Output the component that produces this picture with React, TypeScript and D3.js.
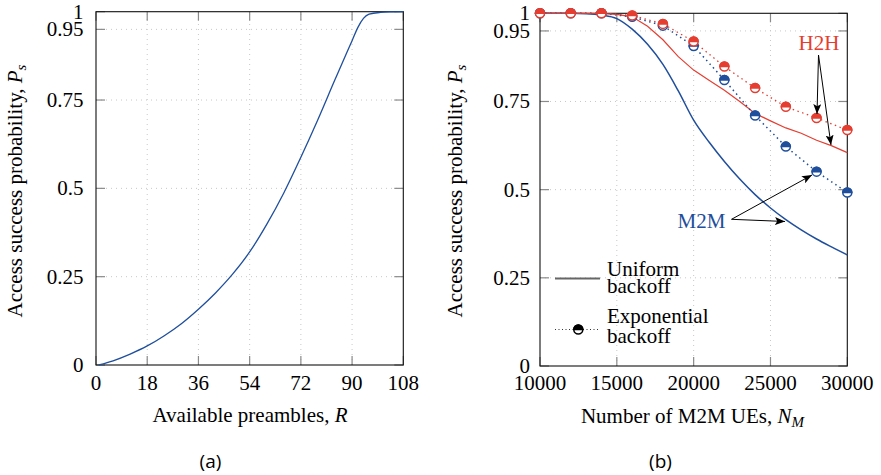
import React from "react";
import * as d3 from "d3";

// ---------- data ----------
const preamblesR = [1, 6, 12, 18, 24, 30, 36, 42, 48, 54, 60, 66, 72, 78, 84, 88, 90, 92, 94, 96, 100, 104, 108];
const successVsR = [0, 0.012, 0.031, 0.054, 0.083, 0.117, 0.158, 0.204, 0.257, 0.32, 0.398, 0.487, 0.588, 0.695, 0.808, 0.882, 0.918, 0.955, 0.981, 0.993, 0.998, 0.9995, 1];

const ueUniform = [10000, 11000, 12000, 13000, 14000, 15000, 16000, 17000, 18000, 19000, 20000, 21000, 22000, 23000, 24000, 25000, 26000, 27000, 28000, 29000, 30000];
const m2mUniform = [1, 1, 1, 0.999, 0.995, 0.985, 0.955, 0.912, 0.855, 0.78, 0.697, 0.635, 0.58, 0.53, 0.486, 0.448, 0.415, 0.386, 0.36, 0.337, 0.315];
const h2hUniform = [1, 1, 1, 1, 0.999, 0.997, 0.99, 0.963, 0.925, 0.877, 0.839, 0.81, 0.782, 0.75, 0.716, 0.695, 0.675, 0.66, 0.64, 0.624, 0.605];

const ueExponential = [10000, 12000, 14000, 16000, 18000, 20000, 22000, 24000, 26000, 28000, 30000];
const h2hExponential = [1, 1, 1, 0.994, 0.97, 0.92, 0.849, 0.788, 0.735, 0.703, 0.669];
const m2mExponential = [1, 1, 1, 0.99, 0.965, 0.907, 0.811, 0.71, 0.622, 0.551, 0.492];

const yTicks = [0, 0.25, 0.5, 0.75, 0.95, 1];
const yTickLabels = ["0", "0.25", "0.5", "0.75", "0.95", "1"];
const xTicksA = [0, 18, 36, 54, 72, 90, 108];
const xTicksB = [10000, 15000, 20000, 25000, 30000];

// ---------- styles ----------
const SERIF = "'Liberation Serif', 'Times New Roman', serif";
const SANS = "'Open Sans', 'Noto Sans', sans-serif";
const BLUE = "#1f4f9c";
const RED = "#e53e31";
const GRID = "#c8c8c8";
const TICK = "#8a8a8a";
const FS = 21;

type Pt = [number, number];

function Frame({ x, y, xTicks, xFmt, yLabelX }: any) {
  const [x0, x1] = x.range();
  const [y0, y1] = y.range();
  const tl = 9;
  return (
    <g>
      {xTicks.slice(1, -1).map((t: number) => (
        <line key={"gx" + t} x1={x(t)} x2={x(t)} y1={y0} y2={y1} stroke={GRID} strokeWidth={1} strokeDasharray="1,4" />
      ))}
      {yTicks.slice(1, -1).map((t) => (
        <line key={"gy" + t} x1={x0} x2={x1} y1={y(t)} y2={y(t)} stroke={GRID} strokeWidth={1} strokeDasharray="1,4" />
      ))}
      {xTicks.map((t: number) => (
        <g key={"tx" + t}>
          <line x1={x(t)} x2={x(t)} y1={y0} y2={y0 - tl} stroke={TICK} strokeWidth={1.2} />
          <line x1={x(t)} x2={x(t)} y1={y1} y2={y1 + tl} stroke={TICK} strokeWidth={1.2} />
          <text x={x(t)} y={390} textAnchor="middle" fontFamily={SERIF} fontSize={FS}>{xFmt(t)}</text>
        </g>
      ))}
      {yTicks.map((t, i) => (
        <g key={"ty" + t}>
          <line x1={x0} x2={x0 + tl} y1={y(t)} y2={y(t)} stroke={TICK} strokeWidth={1.2} />
          <line x1={x1} x2={x1 - tl} y1={y(t)} y2={y(t)} stroke={TICK} strokeWidth={1.2} />
          <text x={yLabelX} y={y(t) + 7} textAnchor="end" fontFamily={SERIF} fontSize={FS}>{yTickLabels[i]}</text>
        </g>
      ))}
      <rect x={x0} y={y1} width={x1 - x0} height={y0 - y1} fill="none" stroke="#111" strokeWidth={1.1} />
    </g>
  );
}

function HalfMarker({ cx, cy, color, r = 4.5 }: any) {
  return (
    <g>
      <circle cx={cx} cy={cy} r={r} fill="#fff" stroke={color} strokeWidth={1.5} />
      <path d={`M${cx - r},${cy} A${r},${r} 0 0 1 ${cx + r},${cy} Z`} fill={color} stroke={color} strokeWidth={1.5} />
    </g>
  );
}

function YLabel({ x, y }: any) {
  return (
    <text transform={`translate(${x},${y}) rotate(-90)`} textAnchor="middle" fontFamily={SERIF} fontSize={FS}>
      Access success probability,{" "}
      <tspan fontStyle="italic">P</tspan>
      <tspan fontStyle="italic" fontSize={15} dy={4}>s</tspan>
    </text>
  );
}

export default function App() {
  // panel (a)
  const xa = d3.scaleLinear().domain([0, 108]).range([96, 403.3]);
  const ya = d3.scaleLinear().domain([0, 1]).range([365, 11.7]);
  // panel (b)
  const xb = d3.scaleLinear().domain([10000, 30000]).range([540, 847.3]);
  const yb = d3.scaleLinear().domain([0, 1]).range([366, 13.3]);

  const lineA = d3.line<Pt>().x((d) => xa(d[0])).y((d) => ya(d[1])).curve(d3.curveMonotoneX);
  const lineB = d3.line<Pt>().x((d) => xb(d[0])).y((d) => yb(d[1]));
  const lineBs = d3.line<Pt>().x((d) => xb(d[0])).y((d) => yb(d[1])).curve(d3.curveMonotoneX);

  const aPts: Pt[] = preamblesR.map((r, i) => [r, successVsR[i]]);
  const m2mU: Pt[] = ueUniform.map((n, i) => [n, m2mUniform[i]]);
  const h2hU: Pt[] = ueUniform.map((n, i) => [n, h2hUniform[i]]);
  const h2hE: Pt[] = ueExponential.map((n, i) => [n, h2hExponential[i]]);
  const m2mE: Pt[] = ueExponential.map((n, i) => [n, m2mExponential[i]]);

  const fmtB = (t: number) => String(t);

  return (
    <svg width={881} height={475} viewBox="0 0 881 475" style={{ display: "block", position: "absolute", left: 0, top: 0, background: "#fff" }}>
      <defs>
        <marker id="arr" viewBox="0 0 10 8" refX={10} refY={4} markerWidth={10} markerHeight={8} markerUnits="userSpaceOnUse" orient="auto">
          <path d="M0,0 L10,4 L0,8 L2.2,4 Z" fill="#000" />
        </marker>
      </defs>
      <rect x={0} y={0} width={881} height={475} fill="#fff" />

      {/* ---------- panel (a) ---------- */}
      <Frame x={xa} y={ya} xTicks={xTicksA} xFmt={(t: number) => String(t)} yLabelX={83.5} />
      <path d={lineA(aPts) || ""} fill="none" stroke={BLUE} strokeWidth={1.3} />
      <YLabel x={22} y={191} />
      <text x={250} y={421.5} textAnchor="middle" fontFamily={SERIF} fontSize={FS}>
        Available preambles, <tspan fontStyle="italic">R</tspan>
      </text>
      <text x={210.5} y={468} textAnchor="middle" fontFamily={SANS} fontSize={19}>(a)</text>

      {/* ---------- panel (b) ---------- */}
      <Frame x={xb} y={yb} xTicks={xTicksB} xFmt={fmtB} yLabelX={530} />
      <path d={lineBs(m2mU) || ""} fill="none" stroke={BLUE} strokeWidth={1.5} />
      <path d={lineB(h2hU) || ""} fill="none" stroke={RED} strokeWidth={1.2} />
      <path d={lineB(m2mE) || ""} fill="none" stroke={BLUE} strokeWidth={1.5} strokeDasharray="1.5,3.5" />
      <path d={lineB(h2hE) || ""} fill="none" stroke={RED} strokeWidth={1.3} strokeDasharray="1.5,3.5" />
      {m2mE.map((d, i) => (
        <HalfMarker key={"mb" + i} cx={xb(d[0])} cy={yb(d[1])} color={BLUE} />
      ))}
      {h2hE.map((d, i) => (
        <HalfMarker key={"mr" + i} cx={xb(d[0])} cy={yb(d[1])} color={RED} />
      ))}

      {/* annotations */}
      <text x={819} y={50} textAnchor="middle" fontFamily={SERIF} fontSize={FS} fill={RED}>H2H</text>
      <line x1={818.5} y1={55} x2={817} y2={114} stroke="#000" strokeWidth={1} markerEnd="url(#arr)" />
      <line x1={818.5} y1={55} x2={831} y2={145} stroke="#000" strokeWidth={1} markerEnd="url(#arr)" />
      <text x={701.5} y={228.3} textAnchor="middle" fontFamily={SERIF} fontSize={FS} fill={BLUE}>M2M</text>
      <line x1={731.5} y1={219.3} x2={812} y2={175} stroke="#000" strokeWidth={1} markerEnd="url(#arr)" />
      <line x1={731.5} y1={219.3} x2={785} y2={221.5} stroke="#000" strokeWidth={1} markerEnd="url(#arr)" />

      {/* legend */}
      <line x1={555} x2={600} y1={278.5} y2={278.5} stroke="#666" strokeWidth={2} />
      <text x={607} y={275.5} fontFamily={SERIF} fontSize={FS}>Uniform</text>
      <text x={607} y={292.5} fontFamily={SERIF} fontSize={FS}>backoff</text>
      <line x1={555} x2={600} y1={329.5} y2={329.5} stroke="#333" strokeWidth={1.2} strokeDasharray="1,2.5" />
      <HalfMarker cx={578.3} cy={329.5} color="#000" />
      <text x={607} y={322.5} fontFamily={SERIF} fontSize={FS}>Exponential</text>
      <text x={607} y={342.5} fontFamily={SERIF} fontSize={FS}>backoff</text>

      <YLabel x={462} y={191} />
      <text x={692.5} y={423} textAnchor="middle" fontFamily={SERIF} fontSize={FS}>
        Number of M2M UEs, <tspan fontStyle="italic">N</tspan>
        <tspan fontStyle="italic" fontSize={15} dy={4}>M</tspan>
      </text>
      <text x={660.5} y={468} textAnchor="middle" fontFamily={SANS} fontSize={19}>(b)</text>
    </svg>
  );
}
